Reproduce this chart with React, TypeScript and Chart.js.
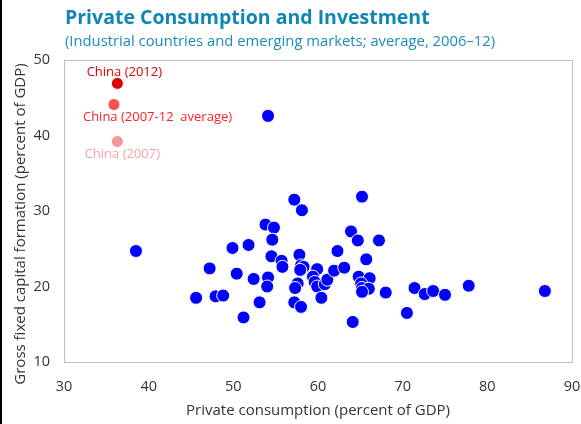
import React, { useEffect, useRef } from "react";
import { Chart, registerables } from "chart.js";

Chart.register(...registerables);

const TITLE = "Private Consumption and Investment";
const SUBTITLE = "(Industrial countries and emerging markets; average, 2006–12)";
const X_TITLE = "Private consumption (percent of GDP)";
const Y_TITLE = "Gross fixed capital formation (percent of GDP)";

// Other countries: private consumption (x) vs investment (y), % of GDP
const consumption = [
  38.5, 45.6, 47.2, 47.9, 48.8, 49.9, 50.4, 51.2, 51.8, 52.4,
  53.1, 53.8, 54.8, 54.6, 54.5, 54.1, 54.0, 55.7, 55.8, 57.2,
  58.1, 57.8, 58.0, 58.3, 57.9, 57.6, 57.3, 57.2, 58.0, 59.9,
  59.4, 59.6, 59.9, 60.8, 61.1, 60.4, 61.9, 62.3, 63.1, 63.9,
  64.7, 65.2, 65.7, 67.2, 64.8, 66.1, 65.1, 65.2, 66.0, 65.2,
  68.0, 71.4, 72.6, 73.6, 75.0, 77.8, 86.8, 70.5, 64.1, 54.1,
];
const investment = [
  24.7, 18.5, 22.4, 18.7, 18.8, 25.1, 21.7, 15.9, 25.5, 21.0,
  17.9, 28.2, 27.8, 26.2, 24.0, 21.2, 20.0, 23.4, 22.6, 31.5,
  30.1, 24.2, 22.8, 22.6, 22.2, 20.4, 19.8, 17.9, 17.3, 22.3,
  21.3, 20.6, 20.0, 20.3, 20.9, 18.5, 22.1, 24.7, 22.5, 27.3,
  26.1, 31.9, 23.6, 26.1, 21.3, 21.1, 20.4, 19.8, 19.7, 19.3,
  19.2, 19.8, 19.0, 19.4, 18.9, 20.1, 19.4, 16.5, 15.3, 42.6,
];

// China highlights
const chinaLabels = ["China (2007)", "China (2007-12  average)", "China (2012)"];
const chinaConsumption = [36.3, 35.9, 36.3];
const chinaInvestment = [39.2, 44.1, 46.9];
const chinaColors = ["#f29a9a", "#ff5050", "#e00000"];
const chinaTextColors = ["#f4a3a3", "#ff1f1f", "#e00000"];

const xTicks = [30, 40, 50, 60, 70, 80, 90];
const yTicks = [10, 20, 30, 40, 50];

const FONT = "'Open Sans', 'Noto Sans', sans-serif";

export default function App() {
  const ref = useRef<HTMLCanvasElement | null>(null);

  useEffect(() => {
    if (!ref.current) return;

    const decor = {
      id: "decor",
      beforeDatasetsDraw(chart: any) {
        const { ctx, chartArea } = chart;
        ctx.save();
        ctx.strokeStyle = "#c0c0c0";
        ctx.lineWidth = 1;
        ctx.strokeRect(
          Math.round(chartArea.left) + 0.5,
          Math.round(chartArea.top) + 0.5,
          Math.round(chartArea.right - chartArea.left),
          Math.round(chartArea.bottom - chartArea.top)
        );
        ctx.restore();
      },
      afterDraw(chart: any) {
        const { ctx, chartArea } = chart;
        ctx.save();
        // frame line at left edge
        ctx.fillStyle = "#000";
        ctx.fillRect(0, 0, 2, chart.height);
        // titles
        ctx.textAlign = "left";
        ctx.textBaseline = "middle";
        ctx.fillStyle = "#0f86b6";
        ctx.font = `bold 19.5px ${FONT}`;
        ctx.fillText(TITLE, chartArea.left + 1, 18);
        ctx.font = `14.8px ${FONT}`;
        ctx.fillStyle = "#1a8cbd";
        ctx.fillText(SUBTITLE, chartArea.left + 1, 42);
        // y axis title
        ctx.save();
        ctx.translate(21, (chartArea.top + chartArea.bottom) / 2 + 13);
        ctx.rotate(-Math.PI / 2);
        ctx.textAlign = "center";
        ctx.fillStyle = "#333";
        ctx.font = `15px ${FONT}`;
        ctx.fillText(Y_TITLE, 0, 0);
        ctx.restore();
        // China labels
        const xs = chart.scales.x;
        const ys = chart.scales.y;
        ctx.font = `13px ${FONT}`;
        const offsets = [
          { dx: 5, dy: 13, align: "center" },
          { dx: -31, dy: 13, align: "left" },
          { dx: 7, dy: -11, align: "center" },
        ];
        chinaLabels.forEach((lab, i) => {
          const px = xs.getPixelForValue(chinaConsumption[i]);
          const py = ys.getPixelForValue(chinaInvestment[i]);
          ctx.fillStyle = chinaTextColors[i];
          ctx.textAlign = offsets[i].align;
          ctx.fillText(lab, px + offsets[i].dx, py + offsets[i].dy);
        });
        ctx.restore();
      },
    };

    const chart = new Chart(ref.current, {
      type: "scatter",
      data: {
        datasets: [
          {
            label: "Countries",
            data: consumption.map((x, i) => ({ x, y: investment[i] })),
            backgroundColor: "#0000ff",
            borderColor: "#ffffff",
            borderWidth: 1,
            pointRadius: 6.5,
          },
          ...chinaLabels.map((lab, i) => ({
            label: lab,
            data: [{ x: chinaConsumption[i], y: chinaInvestment[i] }],
            backgroundColor: chinaColors[i],
            borderColor: "#ffffff",
            borderWidth: 1,
            pointRadius: 6,
          })),
        ],
      },
      options: {
        animation: false,
        responsive: false,
        layout: { padding: { top: 60, right: 9, left: 0, bottom: 0 } },
        plugins: {
          legend: { display: false },
          tooltip: { enabled: false },
          title: { display: false },
        },
        scales: {
          x: {
            type: "linear",
            min: 30,
            max: 90,
            afterBuildTicks: (s: any) => {
              s.ticks = xTicks.map((v) => ({ value: v }));
            },
            afterFit: (s: any) => {
              s.height = 62;
              s.paddingLeft = 0;
              s.paddingRight = 0;
            },
            grid: { display: false, drawTicks: false },
            border: { display: false },
            ticks: {
              padding: 16,
              color: "#333",
              font: { family: FONT, size: 14.5 },
            },
            title: {
              display: true,
              text: X_TITLE,
              color: "#333",
              font: { family: FONT, size: 15 },
              padding: { top: 0, bottom: 4 },
            },
          },
          y: {
            type: "linear",
            min: 10,
            max: 50,
            afterBuildTicks: (s: any) => {
              s.ticks = yTicks.map((v) => ({ value: v }));
            },
            afterFit: (s: any) => {
              s.width = 64;
              s.paddingTop = 0;
              s.paddingBottom = 0;
            },
            grid: { display: false, drawTicks: false },
            border: { display: false },
            ticks: {
              padding: 14,
              color: "#333",
              font: { family: FONT, size: 14.5 },
            },
          },
        },
      },
      plugins: [decor],
    } as any);

    return () => chart.destroy();
  }, []);

  return (
    <div style={{ position: "absolute", left: 0, top: 0, width: 581, height: 424, background: "#fff" }}>
      <canvas ref={ref} width={581} height={424} style={{ width: 581, height: 424, display: "block" }} />
    </div>
  );
}
